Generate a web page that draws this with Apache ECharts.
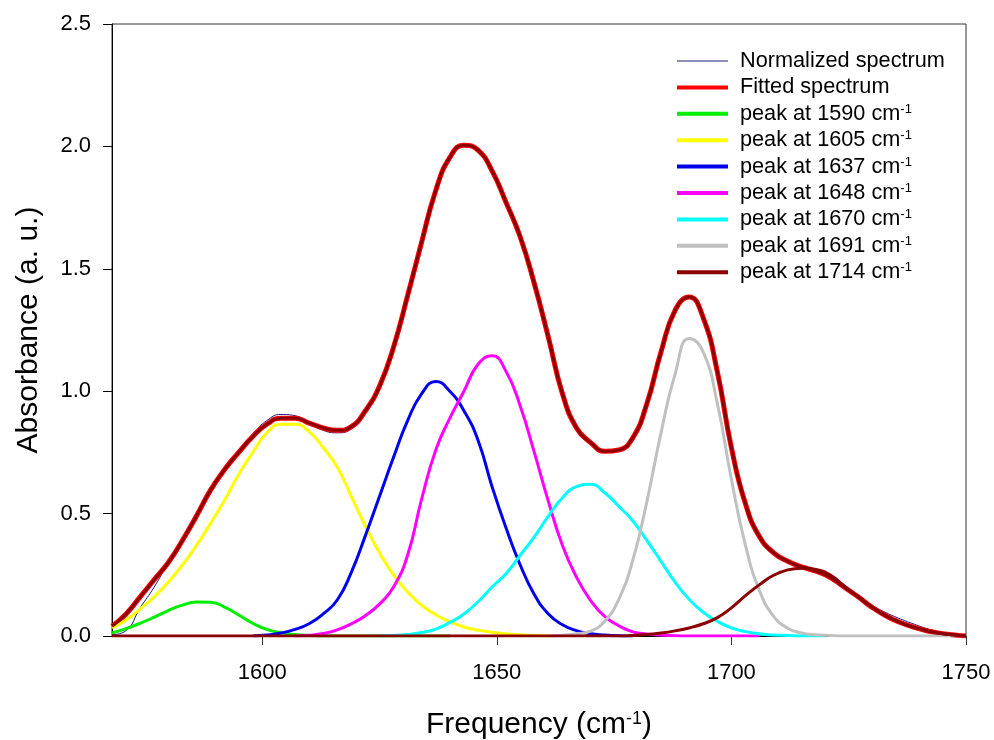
<!DOCTYPE html>
<html>
<head>
<meta charset="utf-8">
<script src="https://cdn.jsdelivr.net/npm/echarts@6/dist/echarts.min.js"></script>
<style>
  html, body { margin: 0; padding: 0; background: #fff; }
  #chart_1 { width: 994px; height: 740px; }
</style>
</head>
<body>
<div id="chart_1"></div>
<script>
// values: [frequency (cm-1), absorbance]
var xTicks = [1600, 1650, 1700, 1750];

var normalizedVals = [[1568,0.005],[1571,0.022],[1574,0.115],[1577,0.2],[1580,0.3],[1583,0.39],[1586,0.49],
    [1589,0.596],[1592,0.68],[1595,0.755],[1598,0.825],[1601,0.88],[1604,0.905],[1607,0.9],[1610,0.87],
    [1613,0.84],[1616,0.83],[1619,0.845],[1622,0.915],[1625,1.02],[1628,1.185],[1631,1.4],[1634,1.62],
    [1637,1.83],[1640,1.965],[1643,2.005],[1646,1.98],[1649,1.9],[1652,1.77],[1655,1.63],[1658,1.44],
    [1661,1.22],[1664,0.99],[1667,0.855],[1670,0.795],[1673,0.755],[1676,0.76],[1679,0.81],[1682,0.95],
    [1685,1.16],[1688,1.33],[1691,1.38],[1694,1.3],[1697,1.08],[1700,0.77],[1703,0.545],[1706,0.41],
    [1709,0.345],[1712,0.31],[1715,0.285],[1718,0.268],[1721,0.245],[1724,0.205],[1727,0.165],
    [1730,0.125],[1733,0.095],[1736,0.07],[1739,0.048],[1742,0.028],[1745,0.012],[1748,0.003],[1750,0]];

var fittedVals = [[1568,0.04],[1571,0.09],[1574,0.16],[1577,0.23],[1580,0.3],[1583,0.39],[1586,0.49],
    [1589,0.596],[1592,0.68],[1595,0.75],[1598,0.815],[1601,0.865],[1604,0.89],[1607,0.89],[1610,0.87],
    [1613,0.85],[1616,0.84],[1619,0.855],[1622,0.92],[1625,1.02],[1628,1.18],[1631,1.39],[1634,1.61],
    [1637,1.82],[1640,1.955],[1643,2.005],[1646,1.985],[1649,1.9],[1652,1.77],[1655,1.63],[1658,1.44],
    [1661,1.22],[1664,0.99],[1667,0.85],[1670,0.79],[1673,0.755],[1676,0.76],[1679,0.81],[1682,0.95],
    [1685,1.16],[1688,1.33],[1691,1.385],[1694,1.3],[1697,1.08],[1700,0.77],[1703,0.54],[1706,0.405],
    [1709,0.34],[1712,0.305],[1715,0.282],[1718,0.265],[1721,0.24],[1724,0.2],[1727,0.16],[1730,0.117],
    [1733,0.082],[1736,0.055],[1739,0.035],[1742,0.02],[1745,0.009],[1748,0.003],[1750,0]];

var peak1590 = [[1568,0.012],[1571,0.03],[1574,0.052],[1577,0.077],[1580,0.104],[1583,0.126],[1586,0.139],
    [1589,0.138],[1592,0.118],[1595,0.086],[1598,0.052],[1601,0.027],[1604,0.013],[1607,0.006],[1610,0.002],
    [1613,0],[1640,0]];

var peak1605 = [[1568,0.033],[1571,0.065],[1574,0.11],[1577,0.16],[1580,0.22],[1583,0.29],[1586,0.37],
    [1589,0.46],[1592,0.555],[1595,0.66],[1598,0.75],[1601,0.83],[1604,0.865],[1607,0.865],[1610,0.835],
    [1613,0.77],[1616,0.69],[1619,0.57],[1622,0.45],[1625,0.34],[1628,0.25],[1631,0.18],[1634,0.125],
    [1637,0.087],[1640,0.058],[1643,0.037],[1646,0.024],[1649,0.015],[1652,0.009],[1655,0.005],
    [1658,0.002],[1661,0]];

var peak1637 = [[1598,0],[1601,0.004],[1604,0.012],[1607,0.027],[1610,0.05],[1613,0.09],[1616,0.147],
    [1619,0.26],[1622,0.41],[1625,0.57],[1628,0.73],[1631,0.88],[1634,0.99],[1637,1.04],[1640,1.0],
    [1643,0.92],[1646,0.8],[1649,0.61],[1652,0.44],[1655,0.29],[1658,0.17],[1661,0.09],[1664,0.046],
    [1667,0.022],[1670,0.009],[1673,0.004],[1676,0.001],[1679,0]];

var peak1648 = [[1607,0],[1610,0.003],[1613,0.01],[1616,0.025],[1619,0.05],[1622,0.083],[1625,0.13],
    [1628,0.2],[1631,0.33],[1634,0.56],[1637,0.76],[1640,0.89],[1643,1.0],[1646,1.11],[1649,1.145],
    [1652,1.08],[1655,0.94],[1658,0.75],[1661,0.55],[1664,0.37],[1667,0.24],[1670,0.145],[1673,0.08],
    [1676,0.042],[1679,0.017],[1682,0.008],[1685,0.004],[1688,0.001],[1691,0],[1706,0]];

var peak1670 = [[1625,0],[1628,0.002],[1631,0.006],[1634,0.014],[1637,0.028],[1640,0.055],[1643,0.09],
    [1646,0.14],[1649,0.2],[1652,0.255],[1655,0.33],[1658,0.405],[1661,0.49],[1664,0.565],[1667,0.61],
    [1670,0.62],[1673,0.585],[1676,0.53],[1679,0.47],[1682,0.39],[1685,0.305],[1688,0.22],[1691,0.15],
    [1694,0.097],[1697,0.06],[1700,0.033],[1703,0.018],[1706,0.009],[1709,0.004],[1712,0.002],[1715,0],
    [1720,0]];

var peak1691 = [[1661,0],[1664,0.003],[1667,0.009],[1670,0.02],[1673,0.06],[1676,0.15],[1679,0.31],
    [1682,0.55],[1685,0.83],[1688,1.07],[1691,1.215],[1694,1.16],[1697,0.95],[1700,0.64],[1703,0.37],
    [1706,0.185],[1709,0.08],[1712,0.032],[1715,0.012],[1718,0.005],[1721,0.002],[1724,0],[1750,0]];

var peak1714 = [[1568,0],[1676,0],[1679,0.002],[1682,0.006],[1685,0.012],[1688,0.021],[1691,0.033],
    [1694,0.05],[1697,0.075],[1700,0.115],[1703,0.165],[1706,0.21],[1709,0.248],[1712,0.27],[1715,0.277],
    [1718,0.272],[1721,0.25],[1724,0.205],[1727,0.16],[1730,0.117],[1733,0.082],[1736,0.055],
    [1739,0.035],[1742,0.02],[1745,0.009],[1748,0.003],[1750,0]];

var seriesNames = ['Normalized spectrum', 'Fitted spectrum', 'peak at 1590 cm-1', 'peak at 1605 cm-1',
    'peak at 1637 cm-1', 'peak at 1648 cm-1', 'peak at 1670 cm-1', 'peak at 1691 cm-1', 'peak at 1714 cm-1'];
var seriesColors = ['#1a1a80', '#ff0000', '#00ee00', '#ffff00', '#0000ee', '#ff00ff', '#00ffff', '#c0c0c0', '#8b0000'];
var seriesData = [normalizedVals, fittedVals, peak1590, peak1605, peak1637, peak1648, peak1670, peak1691, peak1714];

var FONT = 'Arial, "Liberation Sans", sans-serif';

function lineSeries(i, width) {
    return {
        name: seriesNames[i],
        type: 'line',
        data: seriesData[i],
        smooth: true,
        showSymbol: false,
        symbol: 'none',
        color: seriesColors[i],
        lineStyle: { color: seriesColors[i], width: width },
        animation: false
    };
}

var series = [
    lineSeries(0, 1),
    lineSeries(1, 5),
    lineSeries(2, 3),
    lineSeries(3, 3),
    lineSeries(4, 3),
    lineSeries(5, 3),
    lineSeries(6, 3),
    lineSeries(7, 3),
    lineSeries(8, 3)
];
// dark red trace drawn over the fitted curve
series.push({
    name: 'overlay',
    type: 'line',
    data: fittedVals,
    smooth: true,
    showSymbol: false,
    symbol: 'none',
    lineStyle: { color: '#8b0000', width: 3 },
    animation: false
});

// legend keys: flat bars, thin one for the measured spectrum
var legendData = seriesNames.map(function (n, i) {
    return {
        name: n,
        icon: i === 0 ? 'path://M0,0H51V1H0Z' : 'path://M0,0H51V4H0Z',
        itemStyle: { color: seriesColors[i] }
    };
});

var myChart = echarts.init(document.getElementById('chart_1'));
myChart.setOption({
    animation: false,
    grid: {
        left: 112, right: 28, top: 24, bottom: 104,
        containLabel: false,
        outerBoundsMode: 'none',
        show: true, borderColor: '#333', borderWidth: 1
    },
    legend: {
        data: legendData,
        orient: 'vertical',
        left: 677,
        top: 50,
        padding: 0,
        itemWidth: 51,
        itemHeight: 14,
        itemGap: 4.4,
        formatter: function (name) {
            return name.replace(' cm-1', ' cm{sup|-1}');
        },
        textStyle: {
            fontFamily: FONT,
            fontSize: 21.7,
            lineHeight: 22,
            color: '#000',
            padding: [0, 0, 0, 7],
            rich: {
                sup: { fontFamily: FONT, fontSize: 13, lineHeight: 13, verticalAlign: 'top', color: '#000' }
            }
        }
    },
    xAxis: {
        type: 'value',
        min: 1568,
        max: 1750,
        name: 'Frequency (cm{sup|-1})',
        nameLocation: 'middle',
        nameGap: 74,
        nameTextStyle: {
            fontFamily: FONT, fontSize: 30, color: '#000',
            rich: { sup: { fontFamily: FONT, fontSize: 18, lineHeight: 18, verticalAlign: 'top', color: '#000' } }
        },
        axisLine: { show: true, onZero: false, lineStyle: { color: '#000', width: 1 } },
        axisTick: { show: true, inside: false, length: 9, customValues: xTicks, lineStyle: { color: '#333' } },
        axisLabel: {
            customValues: xTicks, fontFamily: FONT, fontSize: 22, color: '#000', margin: 26,
            formatter: function (v) { return String(v); }
        },
        splitLine: { show: false }
    },
    yAxis: {
        type: 'value',
        min: 0,
        max: 2.5,
        interval: 0.5,
        name: 'Absorbance (a. u.)',
        nameLocation: 'middle',
        nameGap: 68,
        nameTextStyle: { fontFamily: FONT, fontSize: 30, color: '#000' },
        axisLine: { show: true, lineStyle: { color: '#000', width: 1 } },
        axisTick: { show: true, inside: false, length: 9, lineStyle: { color: '#000' } },
        axisLabel: {
            fontFamily: FONT, fontSize: 22, color: '#000', margin: 21,
            formatter: function (v) { return v.toFixed(1); }
        },
        splitLine: { show: false }
    },
    series: series
});
</script>
</body>
</html>
